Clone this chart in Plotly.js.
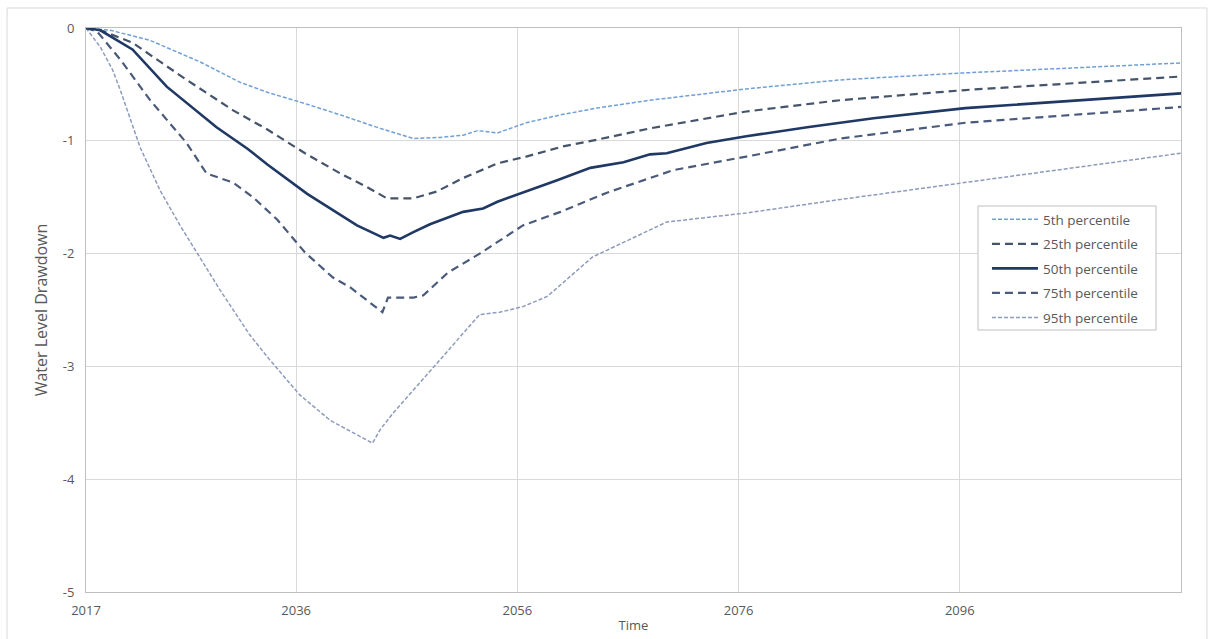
<!DOCTYPE html>
<html><head><meta charset="utf-8">
<script src="https://cdn.plot.ly/plotly-3.0.1.min.js"></script>
<style>html,body{margin:0;padding:0;background:#fff}#chart{width:1216px;height:639px}</style>
</head><body><div id="chart"></div>
<script>
// Series names
const seriesNames = ["5th percentile", "25th percentile", "50th percentile", "75th percentile", "95th percentile"];

// 5th percentile (smallest drawdown)
const years5 = [2017, 2019.2, 2022.8, 2027.3, 2030.9, 2033.4, 2036.8, 2040, 2043.6, 2046.6, 2049, 2051.1, 2052.4, 2054.2, 2056.8, 2059.9, 2063.2, 2068, 2076.7, 2085.2, 2096, 2116];
const p5 = [0, -0.02, -0.11, -0.30, -0.48, -0.57, -0.67, -0.77, -0.89, -0.98, -0.97, -0.95, -0.91, -0.93, -0.84, -0.77, -0.71, -0.64, -0.54, -0.46, -0.40, -0.31];

// 25th percentile
const years25 = [2017, 2018.3, 2021.2, 2025.8, 2030.3, 2033.4, 2036.8, 2040, 2042.4, 2044.2, 2046.6, 2048.7, 2051.1, 2054.2, 2056.8, 2060.1, 2063.2, 2068, 2076.7, 2085.2, 2096.5, 2116];
const p25 = [0, -0.02, -0.13, -0.44, -0.73, -0.90, -1.11, -1.29, -1.41, -1.51, -1.51, -1.45, -1.33, -1.20, -1.14, -1.05, -0.99, -0.89, -0.74, -0.64, -0.55, -0.43];

// 50th percentile (median)
const years50 = [2017, 2018.3, 2021.2, 2024.3, 2028.8, 2031.6, 2033.4, 2037, 2041.5, 2043.9, 2044.5, 2045.4, 2046.6, 2048.1, 2051.1, 2052.9, 2054.2, 2056.8, 2059.6, 2062.6, 2065.6, 2068, 2069.5, 2073.1, 2076.7, 2082.2, 2088.2, 2096.5, 2116];
const p50 = [0, -0.02, -0.19, -0.52, -0.88, -1.07, -1.21, -1.47, -1.75, -1.86, -1.84, -1.87, -1.81, -1.74, -1.63, -1.60, -1.54, -1.45, -1.35, -1.24, -1.19, -1.12, -1.11, -1.02, -0.96, -0.88, -0.80, -0.71, -0.58];

// 75th percentile
const years75 = [2017, 2018, 2020.1, 2022.8, 2026.1, 2027.9, 2030.3, 2032.1, 2034.3, 2036.8, 2039.3, 2040.9, 2043.8, 2044.3, 2046.6, 2047.5, 2049.7, 2052.6, 2056.5, 2059.9, 2064.1, 2070.1, 2076.7, 2085.2, 2096.5, 2116];
const p75 = [0, -0.03, -0.28, -0.64, -1.02, -1.29, -1.37, -1.50, -1.70, -1.99, -2.21, -2.30, -2.52, -2.39, -2.39, -2.37, -2.17, -2.00, -1.75, -1.63, -1.46, -1.26, -1.14, -0.98, -0.84, -0.70];

// 95th percentile (largest drawdown)
const years95 = [2017, 2018.3, 2019.4, 2020.1, 2021.9, 2023.7, 2025.5, 2027.3, 2029.1, 2031.8, 2033.6, 2036.3, 2039.1, 2042.9, 2043.6, 2044.8, 2048.4, 2050.8, 2052.6, 2054.4, 2056.5, 2058.7, 2062.8, 2069.5, 2076.7, 2085.2, 2096.5, 2116];
const p95 = [0, -0.17, -0.37, -0.55, -1.06, -1.44, -1.75, -2.03, -2.32, -2.72, -2.94, -3.25, -3.48, -3.68, -3.56, -3.41, -3.01, -2.74, -2.54, -2.52, -2.47, -2.38, -2.03, -1.72, -1.64, -1.52, -1.37, -1.11];

// Axis ticks
const xTickVals = [2017, 2036, 2056, 2076, 2096];
const xTickText = ["2017", "2036", "2056", "2076", "2096"];
const yTickVals = [0, -1, -2, -3, -4, -5];
const yTickText = ["0", "-1", "-2", "-3", "-4", "-5"];

const FONT = "Open Sans, Liberation Sans, sans-serif";
const TXT = "#595959";

const styles = [
  {color: "#6f9fd6", width: 1.5, dash: "4px,2px"},
  {color: "#44546a", width: 2.2, dash: "8px,5px"},
  {color: "#1f3864", width: 2.6, dash: "solid"},
  {color: "#4a5a7a", width: 2.2, dash: "8px,5px"},
  {color: "#8d9bbb", width: 1.5, dash: "4px,2px"}
];
const xs = [years5, years25, years50, years75, years95];
const ys = [p5, p25, p50, p75, p95];

const traces = seriesNames.map((n, i) => ({
  type: "scatter", mode: "lines", name: n,
  x: xs[i], y: ys[i], legendgroup: "g" + i,
  line: {color: styles[i].color, width: styles[i].width, dash: styles[i].dash}
}));
const order = [4, 0, 3, 1, 2];
const data = order.map(i => Object.assign({}, traces[i], {legendrank: i + 1}));

const layout = {
  width: 1216, height: 639,
  margin: {l: 86, r: 35, t: 28, b: 47},
  paper_bgcolor: "#ffffff", plot_bgcolor: "#ffffff",
  font: {family: FONT, size: 12, color: TXT},
  showlegend: true,
  legend: {
    x: 0.8228, y: 0.6880, xanchor: "left", yanchor: "top",
    borderwidth: 0, bgcolor: "rgba(0,0,0,0)",
    font: {family: FONT, size: 13.5, color: TXT},
    itemwidth: 46, traceorder: "grouped", tracegroupgap: 4
  },
  xaxis: {
    range: [2017, 2116], tickvals: xTickVals, ticktext: xTickText,
    showgrid: true, gridcolor: "#d9d9d9", gridwidth: 1,
    showline: true, linecolor: "#bfbfbf", linewidth: 1, mirror: true,
    zeroline: false, ticks: "", tickfont: {family: FONT, size: 13, color: TXT},
    ticklabelstandoff: 6,
    title: {text: "Time", font: {family: FONT, size: 13, color: TXT}, standoff: 3}
  },
  yaxis: {
    range: [-5, 0], tickvals: yTickVals, ticktext: yTickText,
    showgrid: true, gridcolor: "#d9d9d9", gridwidth: 1,
    showline: true, linecolor: "#bfbfbf", linewidth: 1, mirror: true,
    zeroline: false, ticks: "", tickfont: {family: FONT, size: 13, color: TXT},
    ticklabelstandoff: 8,
    title: {text: "Water Level Drawdown", font: {family: FONT, size: 16, color: TXT}, standoff: 11}
  },
  shapes: [
    {type: "rect", xref: "paper", yref: "paper",
     x0: -0.0721, x1: 1.0237, y0: -0.094, y1: 1.0355,
     line: {color: "#d9d9d9", width: 1}, fillcolor: "rgba(0,0,0,0)", layer: "below"},
    {type: "rect", xref: "paper", yref: "paper",
     x0: 0.8146, x1: 0.9772, y0: 0.4645, y1: 0.6844,
     line: {color: "#bfbfbf", width: 1}, fillcolor: "#ffffff", layer: "above"}
  ]
};

Plotly.newPlot("chart", data, layout, {displayModeBar: false, staticPlot: true});
</script>
</body></html>
